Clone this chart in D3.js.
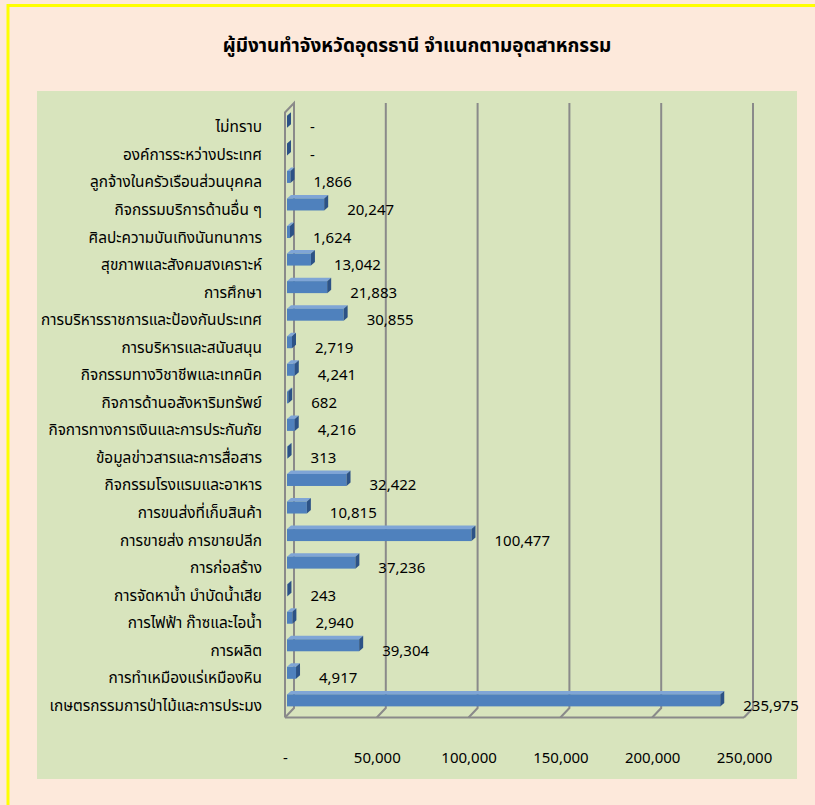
<!DOCTYPE html>
<html>
<head>
<meta charset="utf-8">
<script src="https://cdn.jsdelivr.net/npm/d3@7/dist/d3.min.js"></script>
<style>
  html, body { margin: 0; padding: 0; background: #fde9db; }
  svg { display: block; }
  text { font-family: Tahoma, "Noto Sans Thai", "Noto Sans", "DejaVu Sans", sans-serif; fill: #000; }
</style>
</head>
<body>
<svg id="chart" width="815" height="805"></svg>
<script>
const title = "ผู้มีงานทำจังหวัดอุดรธานี จำแนกตามอุตสาหกรรม";
const categories = [
  "ไม่ทราบ",
  "องค์การระหว่างประเทศ",
  "ลูกจ้างในครัวเรือนส่วนบุคคล",
  "กิจกรรมบริการด้านอื่น ๆ",
  "ศิลปะความบันเทิงนันทนาการ",
  "สุขภาพและสังคมสงเคราะห์",
  "การศึกษา",
  "การบริหารราชการและป้องกันประเทศ",
  "การบริหารและสนับสนุน",
  "กิจกรรมทางวิชาชีพและเทคนิค",
  "กิจการด้านอสังหาริมทรัพย์",
  "กิจการทางการเงินและการประกันภัย",
  "ข้อมูลข่าวสารและการสื่อสาร",
  "กิจกรรมโรงแรมและอาหาร",
  "การขนส่งที่เก็บสินค้า",
  "การขายส่ง การขายปลีก",
  "การก่อสร้าง",
  "การจัดหาน้ำ บำบัดน้ำเสีย",
  "การไฟฟ้า ก๊าซและไอน้ำ",
  "การผลิต",
  "การทำเหมืองแร่เหมืองหิน",
  "เกษตรกรรมการป่าไม้และการประมง"
];
const values = [0, 0, 1866, 20247, 1624, 13042, 21883, 30855, 2719, 4241, 682, 4216, 313, 32422, 10815, 100477, 37236, 243, 2940, 39304, 4917, 235975];
const tickValues = [0, 50000, 100000, 150000, 200000, 250000];

const fmt = v => v === 0 ? "-" : d3.format(",")(v);

const svg = d3.select("#chart");

// background
svg.append("rect").attr("x", 0).attr("y", 0).attr("width", 815).attr("height", 805).attr("fill", "#fde9db");
svg.append("rect").attr("x", 8).attr("y", 5.5).attr("width", 830).attr("height", 830)
  .attr("fill", "none").attr("stroke", "#ffff00").attr("stroke-width", 3);
// plot area
svg.append("rect").attr("x", 37).attr("y", 91).attr("width", 760).attr("height", 688).attr("fill", "#d8e4bd");

// title
svg.append("text").attr("x", 417).attr("y", 52).attr("text-anchor", "middle")
  .style("font-size", "19px").style("font-weight", "bold").text(title);

// scales
const depth = { dx: -9, dy: 9.5 };
const xBack = d3.scaleLinear().domain([0, 250000]).range([294, 753]);
const xFront = d3.scaleLinear().domain([0, 250000]).range([294 + depth.dx, 753 + depth.dx]);
const xBar = d3.scaleLinear().domain([0, 250000]).range([287, 287 + 459]);
const y = d3.scaleBand().domain(categories).range([108.05, 714.15]).padding(0);
const wallTop = 103, wallBottom = 708;

const grid = svg.append("g").attr("fill", "none").attr("stroke", "#8a8a8a").attr("stroke-width", 2);
// back wall gridlines + floor diagonals
tickValues.forEach(t => {
  const xb = xBack(t);
  if (t > 0) {
    grid.append("path").attr("d", `M${xb},${wallTop} L${xb},${wallBottom} L${xb + depth.dx},${wallBottom + depth.dy}`);
  }
});
// left side wall
const xb0 = xBack(0), xf0 = xFront(0);
grid.append("path").attr("d",
  `M${xf0},${wallBottom + depth.dy} L${xf0},${wallTop + depth.dy} L${xb0},${wallTop} L${xb0},${wallBottom} L${xf0},${wallBottom + depth.dy}`);
// front floor edge
grid.append("path").attr("d", `M${xf0},${wallBottom + depth.dy} L${xFront(250000)},${wallBottom + depth.dy}`);

// bars (3D boxes)
const bh = 12, bd = { dx: 4, dy: -3.5 };
const bars = svg.append("g");
categories.forEach((c, i) => {
  const v = values[i];
  const cy = y(c) + y.bandwidth() / 2;
  const x0 = xBar(0), x1 = xBar(v);
  const top = cy - bh / 2, bot = cy + bh / 2;
  // top face
  bars.append("path").attr("fill", "#7fa5d6")
    .attr("d", `M${x0},${top} L${x0 + bd.dx},${top + bd.dy} L${x1 + bd.dx},${top + bd.dy} L${x1},${top} Z`);
  // front face
  bars.append("rect").attr("x", x0).attr("y", top).attr("width", x1 - x0).attr("height", bh).attr("fill", "#4f81bd");
  // side face
  bars.append("path").attr("fill", "#2c5286")
    .attr("d", `M${x1},${top} L${x1 + bd.dx},${top + bd.dy} L${x1 + bd.dx},${bot + bd.dy} L${x1},${bot} Z`);
  // value label
  svg.append("text").attr("x", x1 + 23).attr("y", cy + 10.5)
    .style("font-size", "15px").text(fmt(v));
});

// category labels
const yAxis = d3.axisLeft(y).tickSize(0).tickPadding(0);
const gy = svg.append("g").attr("transform", "translate(262,0)").call(yAxis);
gy.select(".domain").remove();
gy.selectAll("text").attr("x", 0).attr("dy", null).attr("y", 10.5)
  .style("font-size", "15.4px").style("font-family", null).attr("text-anchor", "end");
gy.selectAll(".tick").attr("transform", d => `translate(0,${y(d) + y.bandwidth() / 2})`);

// x axis labels
const xAxis = d3.axisBottom(xFront).tickValues(tickValues).tickFormat(fmt).tickSize(0).tickPadding(0);
const gx = svg.append("g").attr("transform", "translate(0,763)").call(xAxis);
gx.select(".domain").remove();
gx.selectAll("text").attr("y", 0).attr("dy", null).style("font-size", "15px").style("font-family", null);
</script>
</body>
</html>
